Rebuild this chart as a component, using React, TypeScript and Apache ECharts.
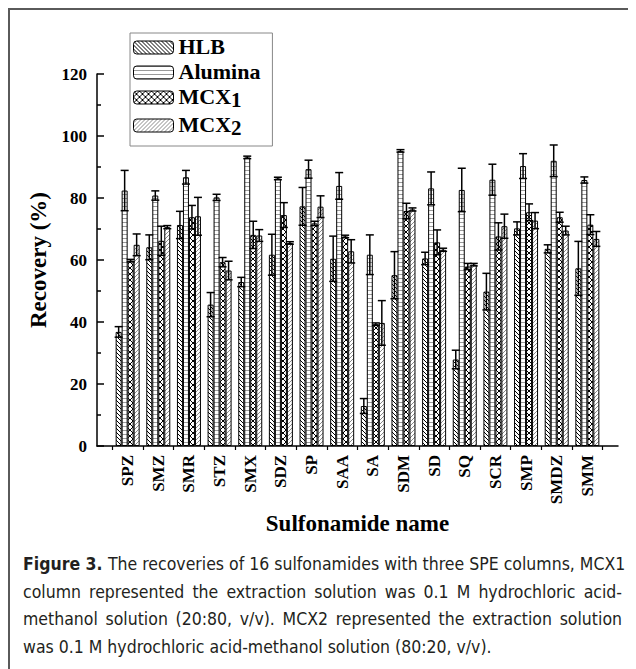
import React, { useEffect, useRef } from "react";
import * as echarts from "echarts";

const categories = ["SPZ", "SMZ", "SMR", "STZ", "SMX", "SDZ", "SP", "SAA", "SA", "SDM", "SD", "SQ", "SCR", "SMP", "SMDZ", "SMM"];
const seriesNames = ["HLB", "Alumina", "MCX1", "MCX2"];

const hlb = [36.8, 64.1, 71.3, 45.6, 52.9, 61.7, 77.3, 60.4, 12.9, 55.1, 60.5, 27.9, 49.8, 70.2, 63.6, 57.3];
const hlbErr = [1.7, 4.0, 4.4, 3.9, 1.5, 6.6, 6.1, 7.3, 2.4, 7.6, 2.0, 3.0, 5.9, 2.1, 1.3, 8.7];
const alumina = [82.4, 80.8, 86.7, 80.2, 93.1, 86.3, 89.3, 83.9, 61.7, 95.2, 83.1, 82.6, 85.9, 90.3, 92.0, 85.8];
const aluminaErr = [6.5, 1.5, 2.2, 1.0, 0.4, 0.4, 2.9, 4.3, 6.4, 0.4, 5.3, 7.0, 5.0, 4.0, 5.1, 1.0];
const mcx1 = [59.8, 66.2, 73.8, 59.3, 68.1, 74.5, 71.8, 67.6, 39.3, 75.8, 65.7, 57.9, 67.6, 75.4, 73.8, 71.4];
const mcx1Err = [0.4, 4.7, 3.8, 1.5, 4.4, 4.0, 0.7, 0.4, 0.4, 2.5, 4.0, 1.0, 4.4, 2.7, 1.6, 3.2];
const mcx2 = [64.9, 70.6, 74.1, 56.6, 67.9, 65.5, 77.2, 62.8, 39.7, 76.3, 63.3, 58.5, 70.9, 72.7, 69.5, 66.8];
const mcx2Err = [3.5, 0.5, 6.1, 3.0, 1.9, 0.4, 3.5, 3.75, 7.2, 0.5, 0.5, 0.4, 3.9, 2.6, 1.4, 2.4];

const yTicks = [0, 20, 40, 60, 80, 100, 120];

const captionLines = [
  "The recoveries of 16 sulfonamides with three SPE columns, MCX1",
  "column represented the extraction solution was 0.1 M hydrochloric acid-",
  "methanol solution (20:80, v/v). MCX2 represented the extraction solution",
  "was 0.1 M hydrochloric acid-methanol solution (80:20, v/v).",
];

const SERIF = "'Liberation Serif', 'Times New Roman', serif";
const BAR_W = 6;

function tile(w: number, h: number, draw: (ctx: CanvasRenderingContext2D) => void) {
  const c = document.createElement("canvas");
  c.width = w;
  c.height = h;
  const ctx = c.getContext("2d") as CanvasRenderingContext2D;
  ctx.fillStyle = "#ffffff";
  ctx.fillRect(0, 0, w, h);
  draw(ctx);
  return { image: c, repeat: "repeat", imageWidth: w, imageHeight: h } as any;
}

function makePatterns() {
  const back = tile(4, 4, (ctx) => {
    ctx.fillStyle = "#000";
    for (let i = 0; i < 4; i++) ctx.fillRect(i, i, 1, 1);
  });
  const horiz = tile(4, 4, (ctx) => {
    ctx.fillStyle = "#9a9a9a";
    ctx.fillRect(0, 0, 4, 1);
  });
  const cross = tile(6, 6, (ctx) => {
    ctx.fillStyle = "#000";
    for (let i = 0; i < 6; i++) {
      ctx.fillRect(i, i, 1, 1);
      ctx.fillRect(5 - i, i, 1, 1);
    }
  });
  const fwd = tile(4, 4, (ctx) => {
    ctx.fillStyle = "#8a8a8a";
    for (let i = 0; i < 4; i++) ctx.fillRect(3 - i, i, 1, 1);
  });
  return [back, horiz, cross, fwd];
}

export default function App() {
  const ref = useRef<HTMLDivElement>(null);

  useEffect(() => {
    if (!ref.current) return;
    const chart = echarts.init(ref.current, null, { renderer: "svg" });
    const patterns = makePatterns();
    const values = [hlb, alumina, mcx1, mcx2];
    const errs = [hlbErr, aluminaErr, mcx1Err, mcx2Err];

    const bars = seriesNames.map((name, k) => ({
      name,
      type: "bar",
      barWidth: BAR_W,
      barGap: "0%",
      data: categories.map((_, i) => [i + 1, values[k][i]]),
      itemStyle: { color: patterns[k], borderColor: "#000", borderWidth: 1 },
      z: 2,
    }));

    const errorSeries = seriesNames.map((name, k) => ({
      name: name + " error",
      type: "custom",
      z: 3,
      encode: { x: 0, y: [1, 2] },
      data: categories.map((_, i) => [i + 1, values[k][i] - errs[k][i], values[k][i] + errs[k][i]]),
      renderItem: (params: any, api: any) => {
        const x = api.value(0);
        const lo = api.coord([x, api.value(1)]);
        const hi = api.coord([x, api.value(2)]);
        const cx = lo[0] + (k - 1.5) * BAR_W;
        const half = 4;
        const style = { stroke: "#000", lineWidth: 1.5 };
        return {
          type: "group",
          children: [
            { type: "line", shape: { x1: cx, y1: lo[1], x2: cx, y2: hi[1] }, style },
            { type: "line", shape: { x1: cx - half, y1: hi[1], x2: cx + half, y2: hi[1] }, style },
            { type: "line", shape: { x1: cx - half, y1: lo[1], x2: cx + half, y2: lo[1] }, style },
          ],
        };
      },
    }));

    const labelFont = { fontFamily: SERIF, fontWeight: "bold", color: "#000" };

    chart.setOption({
      animation: false,
      grid: { left: 87, top: 64, width: 521, height: 372 },
      legend: {
        data: seriesNames,
        orient: "vertical",
        left: 120,
        top: 23,
        padding: [2, 12, 8, 3],
        itemGap: 3,
        itemWidth: 40,
        itemHeight: 13,
        selectedMode: false,
        borderColor: "#888",
        borderWidth: 1,
        backgroundColor: "#fff",
        itemStyle: { borderColor: "#000", borderWidth: 1 },
        formatter: (name: string) =>
          name.startsWith("MCX") ? `{m|MCX}{s|${name.slice(3)}}` : `{m|${name}}`,
        textStyle: {
          ...labelFont,
          fontSize: 22,
          rich: {
            m: { ...labelFont, fontSize: 22, lineHeight: 25, verticalAlign: "top" },
            s: { ...labelFont, fontSize: 21, lineHeight: 11, verticalAlign: "bottom" },
          },
        },
      },
      xAxis: {
        type: "value",
        min: 0,
        max: categories.length + 1,
        interval: 1,
        name: "Sulfonamide name",
        nameLocation: "middle",
        nameGap: 59,
        nameTextStyle: { ...labelFont, fontSize: 23 },
        axisLine: { lineStyle: { color: "#000", width: 1.5 } },
        axisTick: { show: false },
        minorTick: { show: true, splitNumber: 2, length: 4, lineStyle: { color: "#000", width: 1.2 } },
        splitLine: { show: false },
        axisLabel: {
          ...labelFont,
          fontSize: 17,
          rotate: 90,
          margin: 9,
          formatter: (v: number) => categories[v - 1] ?? "",
        },
      },
      yAxis: {
        type: "value",
        min: yTicks[0],
        max: yTicks[yTicks.length - 1],
        interval: 20,
        name: "Recovery (%)",
        nameLocation: "middle",
        nameGap: 47,
        nameTextStyle: { ...labelFont, fontSize: 23 },
        axisLine: { show: true, lineStyle: { color: "#000", width: 1.5 } },
        axisTick: { show: true, inside: true, length: 7, lineStyle: { color: "#000", width: 1.5 } },
        minorTick: { show: true, splitNumber: 2, length: 4, lineStyle: { color: "#000", width: 1.5 } },
        splitLine: { show: false },
        axisLabel: { ...labelFont, fontSize: 17, margin: 10 },
      },
      series: [...bars, ...errorSeries],
    });
    return () => chart.dispose();
  }, []);

  return (
    <div
      style={{
        position: "relative",
        boxSizing: "border-box",
        width: 628,
        height: 661,
        borderTop: "2px solid #5a5a5a",
        borderLeft: "2px solid #5a5a5a",
        background: "#fff",
        overflow: "hidden",
      }}
    >
      <div ref={ref} style={{ position: "absolute", left: 0, top: 0, width: 626, height: 659 }} />
      <div
        style={{
          position: "absolute",
          left: 13,
          top: 541,
          width: 599,
          fontFamily: "'DejaVu Sans Condensed', Roboto, sans-serif",
          fontSize: 17.5,
          lineHeight: "27.5px",
          color: "#231f20",
        }}
      >
        {captionLines.map((line, i) => (
          <div
            key={i}
            style={{
              whiteSpace: "nowrap",
              textAlign: i < 3 ? "justify" : "left",
              textAlignLast: i < 3 ? "justify" : "left",
            } as React.CSSProperties}
          >
            {i === 0 ? <b>Figure 3. </b> : null}
            {line}
          </div>
        ))}
      </div>
    </div>
  );
}
